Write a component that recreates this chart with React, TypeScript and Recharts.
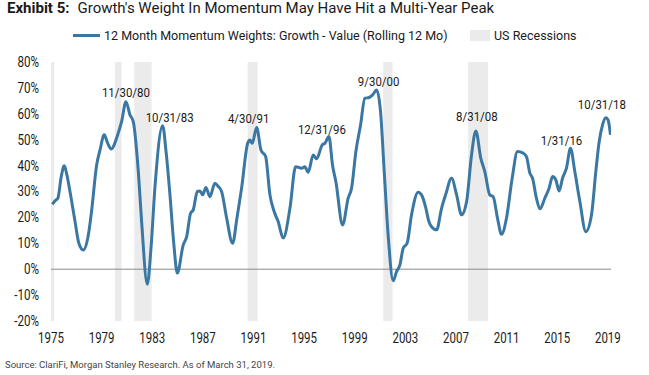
import { LineChart, Line, XAxis, YAxis, ReferenceArea, ReferenceLine, ReferenceDot } from "recharts";

// month positions as decimal years, values in %
const dates = [
  1975.1, 1975.35, 1975.55, 1975.8, 1976.05, 1976.25, 1976.5, 1976.9, 1977.2, 1977.55,
  1977.95, 1978.2, 1978.61, 1978.87, 1979.21, 1979.45, 1979.74, 1980.27, 1980.6, 1980.92,
  1981.24, 1981.5, 1981.9, 1982.16, 1982.61, 1982.9, 1983.21, 1983.82, 1984.1, 1984.4,
  1984.7, 1984.98, 1985.45, 1985.72, 1986.03, 1986.24, 1986.56, 1986.77, 1986.98, 1987.24,
  1987.56, 1987.95, 1988.2, 1988.48, 1988.88, 1989.35, 1989.7, 1990.06, 1990.54, 1990.72,
  1990.9, 1991.25, 1991.59, 1991.96, 1992.3, 1992.64, 1992.95, 1993.35, 1993.88, 1994.33,
  1994.8, 1995.06, 1995.32, 1995.72, 1995.99, 1996.43, 1996.64, 1996.96, 1997.25, 1997.51,
  1998.04, 1998.48, 1998.75, 1999.09, 1999.46, 1999.8, 2000.14, 2000.41, 2000.73, 2001.04,
  2001.3, 2001.64, 2002.04, 2002.31, 2002.57, 2002.83, 2003.14, 2003.49, 2004.01, 2004.3,
  2004.6, 2004.86, 2005.07, 2005.47, 2005.86, 2006.18, 2006.65, 2007.05, 2007.44, 2007.84,
  2008.23, 2008.57, 2008.96, 2009.28, 2009.67, 2009.94, 2010.28, 2010.6, 2010.99, 2011.44,
  2011.86, 2012.31, 2012.57, 2012.84, 2013.05, 2013.36, 2013.63, 2014.02, 2014.36, 2014.63,
  2014.89, 2015.15, 2015.42, 2015.73, 2016.05, 2016.39, 2016.79, 2017.26, 2017.71, 2018.05,
  2018.31, 2018.58, 2018.84, 2019.02, 2019.21,
];
const weights = [
  25.1, 26.5, 27.5, 35.5, 39.9, 36.5, 30.0, 18.4, 10.0, 7.4,
  13.2, 22.2, 40.3, 46.0, 51.9, 49.0, 46.4, 51.9, 57.5, 64.7,
  59.6, 57.0, 37.7, 18.4, -5.8, 8.0, 31.4, 55.4, 45.0, 28.7,
  10.0, -1.5, 9.4, 12.6, 21.6, 22.9, 30.0, 30.2, 28.7, 31.5,
  28.0, 33.2, 32.0, 30.0, 19.7, 10.0, 20.0, 31.3, 48.6, 49.9,
  48.6, 54.7, 46.0, 43.5, 28.7, 22.2, 18.4, 12.0, 23.5, 39.6,
  39.0, 39.6, 37.4, 44.1, 42.6, 48.0, 48.6, 51.2, 40.0, 33.8,
  17.1, 27.4, 31.3, 45.4, 55.7, 66.0, 66.3, 67.3, 69.2, 60.8,
  40.3, 13.2, -4.5, -0.9, 1.7, 8.1, 10.0, 21.0, 29.7, 28.5,
  24.0, 18.4, 16.4, 15.2, 23.5, 28.7, 35.1, 28.7, 21.0, 26.1,
  44.1, 53.4, 42.9, 37.7, 28.7, 28.0, 19.7, 13.5, 19.7, 35.1,
  45.4, 44.8, 43.5, 37.1, 35.1, 27.4, 23.3, 27.4, 31.3, 35.8,
  34.5, 30.2, 35.1, 39.0, 46.7, 37.7, 26.1, 14.5, 21.0, 37.7,
  49.0, 55.7, 58.5, 57.6, 51.9,
];

const yearTicks = [1975, 1979, 1983, 1987, 1991, 1995, 1999, 2003, 2007, 2011, 2015, 2019];
const pctTicks = [-20, -10, 0, 10, 20, 30, 40, 50, 60, 70, 80];

const recessionStart = [1975.0, 1980.05, 1981.58, 1990.54, 2001.25, 2007.96];
const recessionEnd = [1975.25, 1980.58, 1982.95, 1991.33, 2001.99, 2009.54];

const peakLabels = ["11/30/80", "10/31/83", "4/30/91", "12/31/96", "9/30/00", "8/31/08", "1/31/16", "10/31/18"];
const peakDates = [1980.92, 1983.82, 1991.25, 1996.96, 2000.73, 2008.57, 2016.05, 2018.84];
const peakValues = [64.7, 55.4, 54.7, 51.2, 69.2, 53.4, 46.7, 58.5];

// label nudges in px (layout only)
const labelDx = [0, 7, -8, -7, 2, 1, -9, -4];
const labelDy = [-5, -4, -5, -3, -4, -10, -3, -9];

const data = dates.map((d, i) => ({ date: d, w: weights[i] }));

const LINE = "#3b77a3";
const BAND = "#ebebeb";
const FONT = "Roboto, 'Noto Sans', sans-serif";
const INK = "#1a1a1a";

const XTick = ({ x, y, payload }: any) => (
  <g transform={`translate(${x},${y})`}>
    <text transform="scale(0.82,1)" textAnchor="middle" dy="0.71em" fontSize={14} fill={INK} fontFamily={FONT}>
      {payload.value}
    </text>
  </g>
);

const YTick = ({ x, y, payload }: any) => (
  <g transform={`translate(${x},${y})`}>
    <text transform="scale(0.83,1)" textAnchor="end" dy="0.355em" fontSize={14} fill={INK} fontFamily={FONT}>
      {`${payload.value}%`}
    </text>
  </g>
);

const peakShape = (i: number) => (props: any) => (
  <g transform={`translate(${props.cx + labelDx[i]},${props.cy + labelDy[i]})`}>
    <text transform="scale(0.88,1)" textAnchor="middle" fontSize={13} fill={INK} fontFamily={FONT}>
      {peakLabels[i]}
    </text>
  </g>
);

export default function App() {
  return (
    <div style={{ position: "absolute", left: 0, top: 0, width: 649, height: 375, background: "#fff", fontFamily: FONT, color: INK }}>
      <div style={{ position: "absolute", left: 7, top: 1, fontSize: 15, lineHeight: "15px", whiteSpace: "nowrap" }}>
        <b>Exhibit 5:</b>
        <span style={{ marginLeft: 8 }}>Growth's Weight In Momentum May Have Hit a Multi-Year Peak</span>
      </div>

      <div style={{ position: "absolute", left: 73, top: 28, height: 14, display: "flex", alignItems: "center", fontSize: 12.5, whiteSpace: "nowrap" }}>
        <span style={{ width: 27, height: 3, background: LINE, marginRight: 4 }} />
        <span>12 Month Momentum Weights: Growth - Value (Rolling 12 Mo)</span>
      </div>
      <div style={{ position: "absolute", left: 470, top: 28, height: 14, display: "flex", alignItems: "center", fontSize: 12.5, whiteSpace: "nowrap" }}>
        <span style={{ width: 20, height: 11, background: BAND, marginRight: 4 }} />
        <span>US Recessions</span>
      </div>

      <div style={{ position: "absolute", left: 0, top: 0 }}>
        <LineChart width={649} height={375} data={data} margin={{ top: 62, right: 38, bottom: 0, left: 0 }}>
          <XAxis
            dataKey="date"
            type="number"
            domain={[1975, 2019.25]}
            ticks={yearTicks}
            allowDataOverflow
            axisLine={false}
            tickLine={false}
            tickSize={0}
            tickMargin={12}
            height={54}
            tick={<XTick />}
          />
          <YAxis
            type="number"
            domain={[-20, 80]}
            ticks={pctTicks}
            width={51}
            axisLine={false}
            tickLine={false}
            tickSize={0}
            tickMargin={12}
            tick={<YTick />}
          />
          {recessionStart.map((s, i) => (
            <ReferenceArea key={s} x1={s} x2={recessionEnd[i]} y1={-20} y2={80} fill={BAND} fillOpacity={1} stroke="none" ifOverflow="hidden" />
          ))}
          <ReferenceLine y={0} stroke="#8a8a8a" strokeWidth={1} />
          <Line type="monotone" dataKey="w" stroke={LINE} strokeWidth={3} dot={false} isAnimationActive={false} />
          {peakLabels.map((t, i) => (
            <ReferenceDot key={t} x={peakDates[i]} y={peakValues[i]} r={3} shape={peakShape(i)} />
          ))}
        </LineChart>
      </div>

      <div style={{ position: "absolute", left: 5, top: 359, fontSize: 9.5, color: "#444", whiteSpace: "nowrap" }}>
        Source: ClariFi, Morgan Stanley Research. As of March 31, 2019.
      </div>
    </div>
  );
}
